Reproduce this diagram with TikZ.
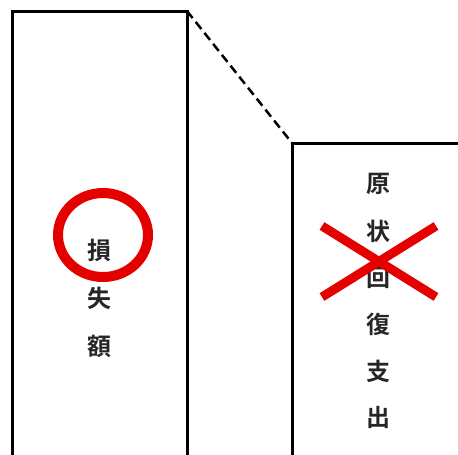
\documentclass[tikz,border=0pt]{standalone}
\usepackage{fontspec}
\newfontfamily\cjk{Noto Sans CJK JP}[BoldFont={Noto Sans CJK JP Bold}]
\begin{document}
\begin{tikzpicture}[x=1pt,y=-1pt,
  box/.style={draw=black,line width=3pt},
  ch/.style={font=\cjk\bfseries\fontsize{24}{24}\selectfont,inner sep=0pt,text=black!85}]
\useasboundingbox (0,0) rectangle (458,455);
\coordinate (la) at (12,470);
\coordinate (lb) at (12,11);
\coordinate (lc) at (187,11);
\coordinate (ld) at (187,470);
\coordinate (ra) at (292,470);
\coordinate (rb) at (292,143);
\coordinate (rc) at (470,143);
\draw[box,line join=miter] (la) -- (lb) -- (lc) -- (ld);
\draw[box,line join=miter] (ra) -- (rb) -- (rc);
\draw[line width=2.5pt,dash pattern=on 9pt off 5pt] (lc) -- (rb);
% red circle
\draw[red!90!black,line width=10pt] (103,235) ellipse [x radius=45, y radius=42];
\node[ch] (t1) at (99,250) {損};
\node[ch] (t2) at (99,298) {失};
\node[ch] (t3) at (99,346) {額};
\node[ch] (u1) at (378,184) {原};
\node[ch] (u2) at (378,231) {状};
\node[ch] (u3) at (378,278) {回};
\node[ch] (u4) at (378,324) {復};
\node[ch] (u5) at (378,371) {支};
\node[ch] (u6) at (378,418) {出};
% red cross
\draw[red!90!black,line width=9pt] (322,226) -- (436,297);
\draw[red!90!black,line width=9pt] (322,297) -- (436,226);
\end{tikzpicture}
\end{document}
